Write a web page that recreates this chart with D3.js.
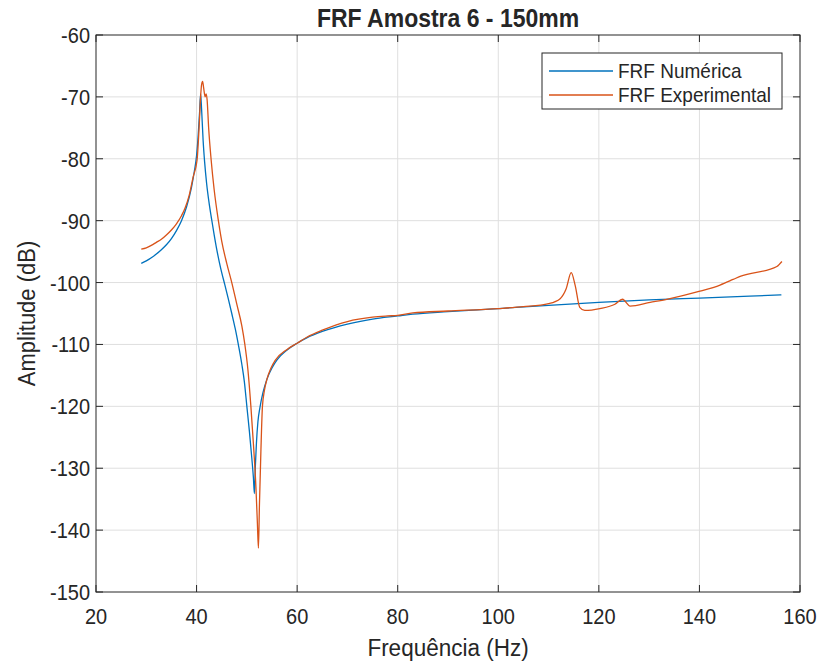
<!DOCTYPE html>
<html>
<head>
<meta charset="utf-8">
<script src="https://cdn.jsdelivr.net/npm/d3@7"></script>
<style>
  body { margin: 0; background: #fff; }
  text { font-family: "Liberation Sans", Arial, sans-serif; fill: #262626; }
</style>
</head>
<body>
<svg id="chart" width="822" height="665"></svg>
<script>
// frequency (Hz) / amplitude (dB)
var freqNum = [29, 30, 31, 32, 33, 34, 35, 36, 37, 38, 39, 39.5, 40, 40.3, 40.6, 40.8, 41.0, 41.3, 41.6, 42, 42.5, 43, 43.5, 44, 44.5, 45, 45.6, 46.3, 47, 47.7, 48.3, 49, 49.5, 50, 50.5, 51, 51.3, 51.5, 51.7, 51.9, 52.2, 52.6, 53.2, 54, 55, 56, 58, 60, 62, 65, 70, 75, 80, 83, 90, 100, 110, 120, 130, 140, 150, 156.3];
var ampNum = [-96.9, -96.5, -96.0, -95.4, -94.7, -93.9, -92.9, -91.6, -90.0, -87.8, -84.6, -82.3, -79.5, -76.5, -72.5, -69.5, -72, -77, -80.5, -84, -87.2, -89.8, -92.3, -94.6, -96.6, -98.4, -100.3, -102.6, -105, -107.5, -110, -113.2, -116, -120, -124, -128.5, -131.5, -134.1, -129.5, -126, -122.5, -120.2, -117.8, -115.6, -113.8, -112.5, -110.9, -109.8, -108.9, -107.9, -106.7, -105.9, -105.4, -105.1, -104.7, -104.2, -103.7, -103.2, -102.8, -102.5, -102.2, -102.0];

var freqExp = [29, 30, 31, 32, 33, 34, 35, 36, 37, 37.7, 38.5, 39.3, 40.1, 40.5, 40.8, 41.0, 41.2, 41.4, 41.7, 41.9, 42.1, 42.4, 42.9, 43.5, 44.3, 45, 46, 47, 48, 49, 49.6, 50.2, 50.8, 51.3, 51.8, 52.1, 52.3, 52.5, 52.8, 53.1, 53.5, 54, 54.8, 55.6, 58, 60, 62, 65, 70, 75, 78, 80, 83, 90, 100, 105, 110, 112.3, 113.5, 114.5, 115.3, 116.2, 117.2, 120.2, 123.2, 124.7, 126.2, 130.2, 133.5, 140.1, 144.1, 146.7, 148.1, 155.4, 156.4];
var ampExp = [-94.6, -94.4, -94.0, -93.5, -93.0, -92.3, -91.5, -90.5, -89.2, -88, -86, -83, -80.2, -75, -70, -68, -67.5, -68.5, -70, -69.5, -70.5, -75, -80.2, -85, -89.8, -93.3, -96.9, -100, -103.5, -107, -110, -114, -120, -126, -133, -139, -142.9, -136, -127, -120, -117.4, -115.6, -113.8, -112.6, -110.8, -109.8, -108.8, -107.7, -106.3, -105.6, -105.4, -105.3, -104.9, -104.6, -104.2, -103.9, -103.4, -102.6, -101, -98.4, -100.5, -104.0, -104.5, -104.2, -103.5, -102.7, -103.8, -103.2, -102.7, -101.4, -100.4, -99.5, -99.0, -97.4, -96.6];

var xTicks = [20, 40, 60, 80, 100, 120, 140, 160];
var yTicks = [-60, -70, -80, -90, -100, -110, -120, -130, -140, -150];
var seriesNames = ["FRF Numérica", "FRF Experimental"];
var seriesColors = ["#0072BD", "#D95319"];

var svg = d3.select("#chart");
var pL = 96, pR = 800, pT = 35, pB = 592;
var stretch = 1.1; // the picture's text looks a bit taller than wide

var x = d3.scaleLinear().domain([20, 160]).range([pL, pR]);
var y = d3.scaleLinear().domain([-150, -60]).range([pB, pT]);

function label(g, tx, ty, str, size, anchor, rot) {
  return g.append("text")
    .attr("transform", "translate(" + tx + "," + ty + ")" + (rot ? " rotate(" + rot + ")" : "") + " scale(1," + stretch + ")")
    .attr("text-anchor", anchor || "middle")
    .style("font-size", size + "px")
    .text(str);
}

// grid
svg.append("g").selectAll("line").data(xTicks.slice(1, -1)).enter().append("line")
  .attr("x1", d => x(d)).attr("x2", d => x(d)).attr("y1", pT).attr("y2", pB)
  .style("stroke", "#dfdfdf").style("stroke-width", 1);
svg.append("g").selectAll("line").data(yTicks.slice(1, -1)).enter().append("line")
  .attr("x1", pL).attr("x2", pR).attr("y1", d => y(d)).attr("y2", d => y(d))
  .style("stroke", "#dfdfdf").style("stroke-width", 1);

svg.append("clipPath").attr("id", "clip").append("rect")
  .attr("x", pL).attr("y", pT).attr("width", pR - pL).attr("height", pB - pT);

var line = d3.line().x(d => x(d[0])).y(d => y(d[1])).curve(d3.curveMonotoneX);
var series = [d3.zip(freqNum, ampNum), d3.zip(freqExp, ampExp)];
series.forEach(function(s, i) {
  svg.append("path").datum(s)
    .attr("clip-path", "url(#clip)")
    .attr("d", line)
    .style("fill", "none")
    .style("stroke", seriesColors[i])
    .style("stroke-width", 1.3);
});

// axes (box with inward ticks on all sides)
var tk = 7;
var axisG = svg.append("g").style("stroke", "#262626").style("stroke-width", 1);
xTicks.forEach(function(t) {
  axisG.append("line").attr("x1", x(t)).attr("x2", x(t)).attr("y1", pB).attr("y2", pB - tk);
  axisG.append("line").attr("x1", x(t)).attr("x2", x(t)).attr("y1", pT).attr("y2", pT + tk);
});
yTicks.forEach(function(t) {
  axisG.append("line").attr("x1", pL).attr("x2", pL + tk).attr("y1", y(t)).attr("y2", y(t));
  axisG.append("line").attr("x1", pR).attr("x2", pR - tk).attr("y1", y(t)).attr("y2", y(t));
});
svg.append("rect").attr("x", pL).attr("y", pT).attr("width", pR - pL).attr("height", pB - pT)
  .style("fill", "none").style("stroke", "#262626").style("stroke-width", 1);

var tg = svg.append("g");
xTicks.forEach(function(t) { label(tg, x(t), pB + 32, t, 20, "middle"); });
yTicks.forEach(function(t) { label(tg, pL - 6, y(t) + 8, t, 20, "end"); });

label(svg, (pL + pR) / 2, 27, "FRF Amostra 6 - 150mm", 23, "middle").style("font-weight", "bold");
label(svg, (pL + pR) / 2, 656, "Frequência (Hz)", 22.5, "middle");
label(svg, 35, (pT + pB) / 2, "Amplitude (dB)", 22, "middle", -90);

// legend
var lg = svg.append("g");
lg.append("rect").attr("x", 542).attr("y", 53).attr("width", 240).attr("height", 56)
  .style("fill", "#fff").style("stroke", "#262626").style("stroke-width", 1);
seriesNames.forEach(function(n, i) {
  var ly = 71 + i * 24;
  lg.append("line").attr("x1", 549).attr("x2", 613).attr("y1", ly).attr("y2", ly)
    .style("stroke", seriesColors[i]).style("stroke-width", 1.3);
  label(lg, 618, ly + 7, n, 19, "start");
});
</script>
</body>
</html>
